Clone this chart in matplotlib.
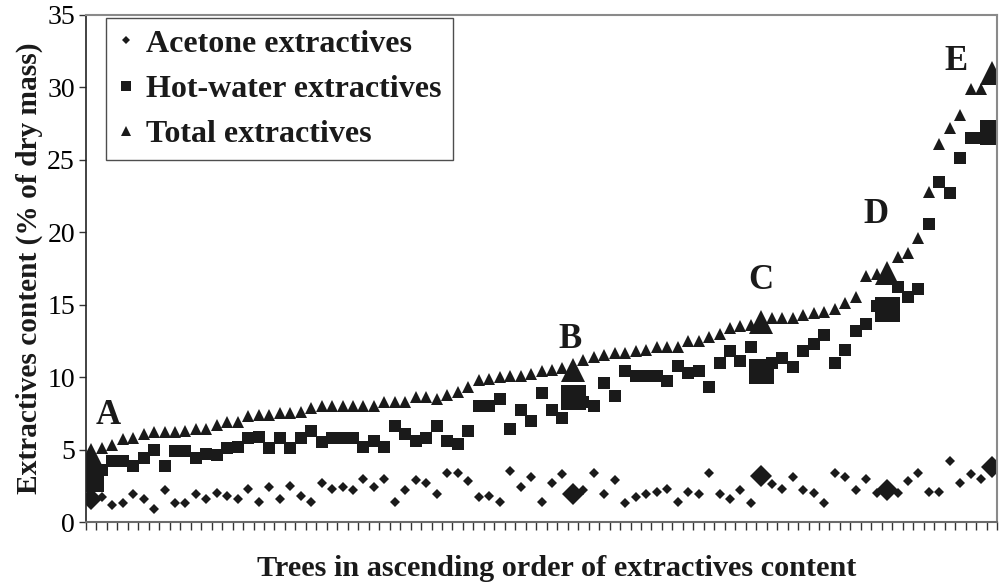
import matplotlib
matplotlib.use("Agg")
import matplotlib.pyplot as plt
from matplotlib.lines import Line2D
import numpy as np

# ---- data ----
acetone = [1.6, 1.7, 1.2, 1.3, 1.9, 1.6, 0.9, 2.2, 1.3, 1.3, 1.9, 1.6, 2.0, 1.8, 1.6, 2.3,
           1.4, 2.4, 1.6, 2.5, 1.8, 1.4, 2.7, 2.3, 2.4, 2.2, 3.0, 2.4, 3.0, 1.4, 2.2, 2.9,
           2.7, 1.9, 3.4, 3.4, 2.8, 1.7, 1.8, 1.4, 3.5, 2.4, 3.1, 1.4, 2.7, 3.3, 1.9, 2.2,
           3.4, 1.9, 2.9, 1.3, 1.7, 1.9, 2.1, 2.3, 1.4, 2.1, 1.9, 3.4, 1.9, 1.6, 2.2, 1.3,
           3.2, 2.6, 2.3, 3.1, 2.2, 2.0, 1.3, 3.4, 3.1, 2.2, 3.0, 2.0, 2.2, 2.0, 2.8, 3.4,
           2.1, 2.1, 4.2, 2.7, 3.3, 3.0, 3.8]
hot_water = [3.0, 3.6, 4.2, 4.2, 3.9, 4.4, 5.0, 3.9, 4.9, 4.9, 4.4, 4.7, 4.6, 5.1, 5.2, 5.8,
             5.9, 5.1, 5.8, 5.1, 5.8, 6.3, 5.5, 5.8, 5.8, 5.8, 5.2, 5.6, 5.2, 6.6, 6.1, 5.6,
             5.8, 6.6, 5.6, 5.4, 6.3, 8.0, 8.0, 8.5, 6.4, 7.7, 7.0, 8.9, 7.7, 7.2, 8.6, 8.3,
             8.0, 9.6, 8.7, 10.4, 10.1, 10.1, 10.1, 9.7, 10.8, 10.3, 10.4, 9.3, 11.0, 11.8, 11.1, 12.1,
             10.4, 11.0, 11.3, 10.7, 11.8, 12.3, 12.9, 11.0, 11.9, 13.2, 13.7, 14.9, 14.7, 16.2, 15.5, 16.1,
             20.6, 23.5, 22.7, 25.1, 26.5, 26.5, 26.9]
total = [4.6, 5.1, 5.3, 5.7, 5.8, 6.1, 6.2, 6.2, 6.2, 6.3, 6.4, 6.4, 6.7, 6.9, 6.9, 7.3,
         7.4, 7.4, 7.5, 7.5, 7.6, 7.9, 8.0, 8.0, 8.0, 8.0, 8.0, 8.0, 8.3, 8.3, 8.3, 8.6,
         8.6, 8.5, 8.8, 9.0, 9.3, 9.8, 9.9, 10.0, 10.1, 10.1, 10.2, 10.4, 10.5, 10.6, 10.5, 11.2,
         11.4, 11.5, 11.7, 11.7, 11.8, 11.9, 12.1, 12.1, 12.1, 12.5, 12.5, 12.8, 13.0, 13.4, 13.5, 13.6,
         13.8, 14.1, 14.1, 14.1, 14.3, 14.4, 14.5, 14.7, 15.1, 15.5, 17.0, 17.1, 17.2, 18.3, 18.6, 19.6,
         22.8, 26.1, 27.2, 28.1, 29.9, 29.9, 31.0]
highlight_idx = [0, 46, 64, 76, 86]
highlight_labels = ["A", "B", "C", "D", "E"]
series_names = ["Acetone extractives", "Hot-water extractives", "Total extractives"]
y_ticks = [0, 5, 10, 15, 20, 25, 30, 35]

n = len(total)
x = np.arange(n) + 0.5
col = "#1a1a1a"
serif = ["Liberation Serif", "DejaVu Serif"]

fig = plt.figure(figsize=(9.99, 5.82), dpi=100)
ax = fig.add_axes([86/999, 1 - 522/582, 911/999, 507/582])

hi = np.array(highlight_idx)
ac = np.array(acetone); hw = np.array(hot_water); tt = np.array(total)
ax.plot(x, ac, linestyle="none", marker="D", ms=5.6, color=col, mew=0)
ax.plot(x, hw, linestyle="none", marker="s", ms=8, color=col, mew=0)
ax.plot(x, tt, linestyle="none", marker="^", ms=8.5, color=col, mew=0)
ax.plot(x[hi], ac[hi], linestyle="none", marker="D", ms=11, color=col, mew=0)
ax.plot(x[hi], hw[hi], linestyle="none", marker="s", ms=18, color=col, mew=0)
ax.plot(x[hi], tt[hi], linestyle="none", marker="^", ms=17, color=col, mew=0)

offsets = [(17, 40), (-3, 30), (-1, 42), (-11, 58), (-36, 11)]
for i, lab, off in zip(highlight_idx, highlight_labels, offsets):
    ax.annotate(lab, (x[i], total[i]), xytext=off, textcoords="offset pixels",
                ha="center", va="center", fontsize=25, fontweight="bold",
                family=serif, color=col)

ax.set_xlim(0, n)
ax.set_ylim(0, 35)
ax.set_xticks(np.arange(n + 1))
ax.set_xticklabels([])
ax.set_yticks(y_ticks)
ax.set_yticklabels([str(v) for v in y_ticks], family=serif, fontsize=20)
ax.tick_params(axis="x", direction="out", length=6, width=1, color="#333333")
ax.tick_params(axis="y", direction="out", length=5, width=1, color="#333333", pad=3)

for s in ["top", "right"]:
    ax.spines[s].set_color("#8a8a8a")
    ax.spines[s].set_linewidth(1.5)
ax.spines["bottom"].set_color("#6a6a6a")
ax.spines["bottom"].set_linewidth(1.5)
ax.spines["left"].set_color("#222222")
ax.spines["left"].set_linewidth(1.2)

ax.set_xlabel("Trees in ascending order of extractives content", family=serif,
              fontsize=21.8, fontweight="bold", color=col)
ax.xaxis.set_label_coords(0.517, -0.066)
ax.set_ylabel("Extractives content (% of dry mass)", family=serif,
              fontsize=21.2, fontweight="bold", labelpad=3, color=col)

handles = [Line2D([], [], linestyle="none", marker="D", ms=4.5, color=col, mew=0),
           Line2D([], [], linestyle="none", marker="s", ms=7, color=col, mew=0),
           Line2D([], [], linestyle="none", marker="^", ms=6.5, color=col, mew=0)]
leg = ax.legend(handles, series_names, loc="upper left", bbox_to_anchor=(0.022, 0.994),
                borderaxespad=0, frameon=True, fancybox=False, handlelength=0.55,
                handletextpad=0.35, labelspacing=0.5, borderpad=0.35,
                prop={"family": serif, "size": 23, "weight": "bold"})
leg.get_frame().set_edgecolor("#222222")
leg.get_frame().set_linewidth(1.0)
for t in leg.get_texts():
    t.set_color(col)

fig.savefig("out.png", dpi=100)
